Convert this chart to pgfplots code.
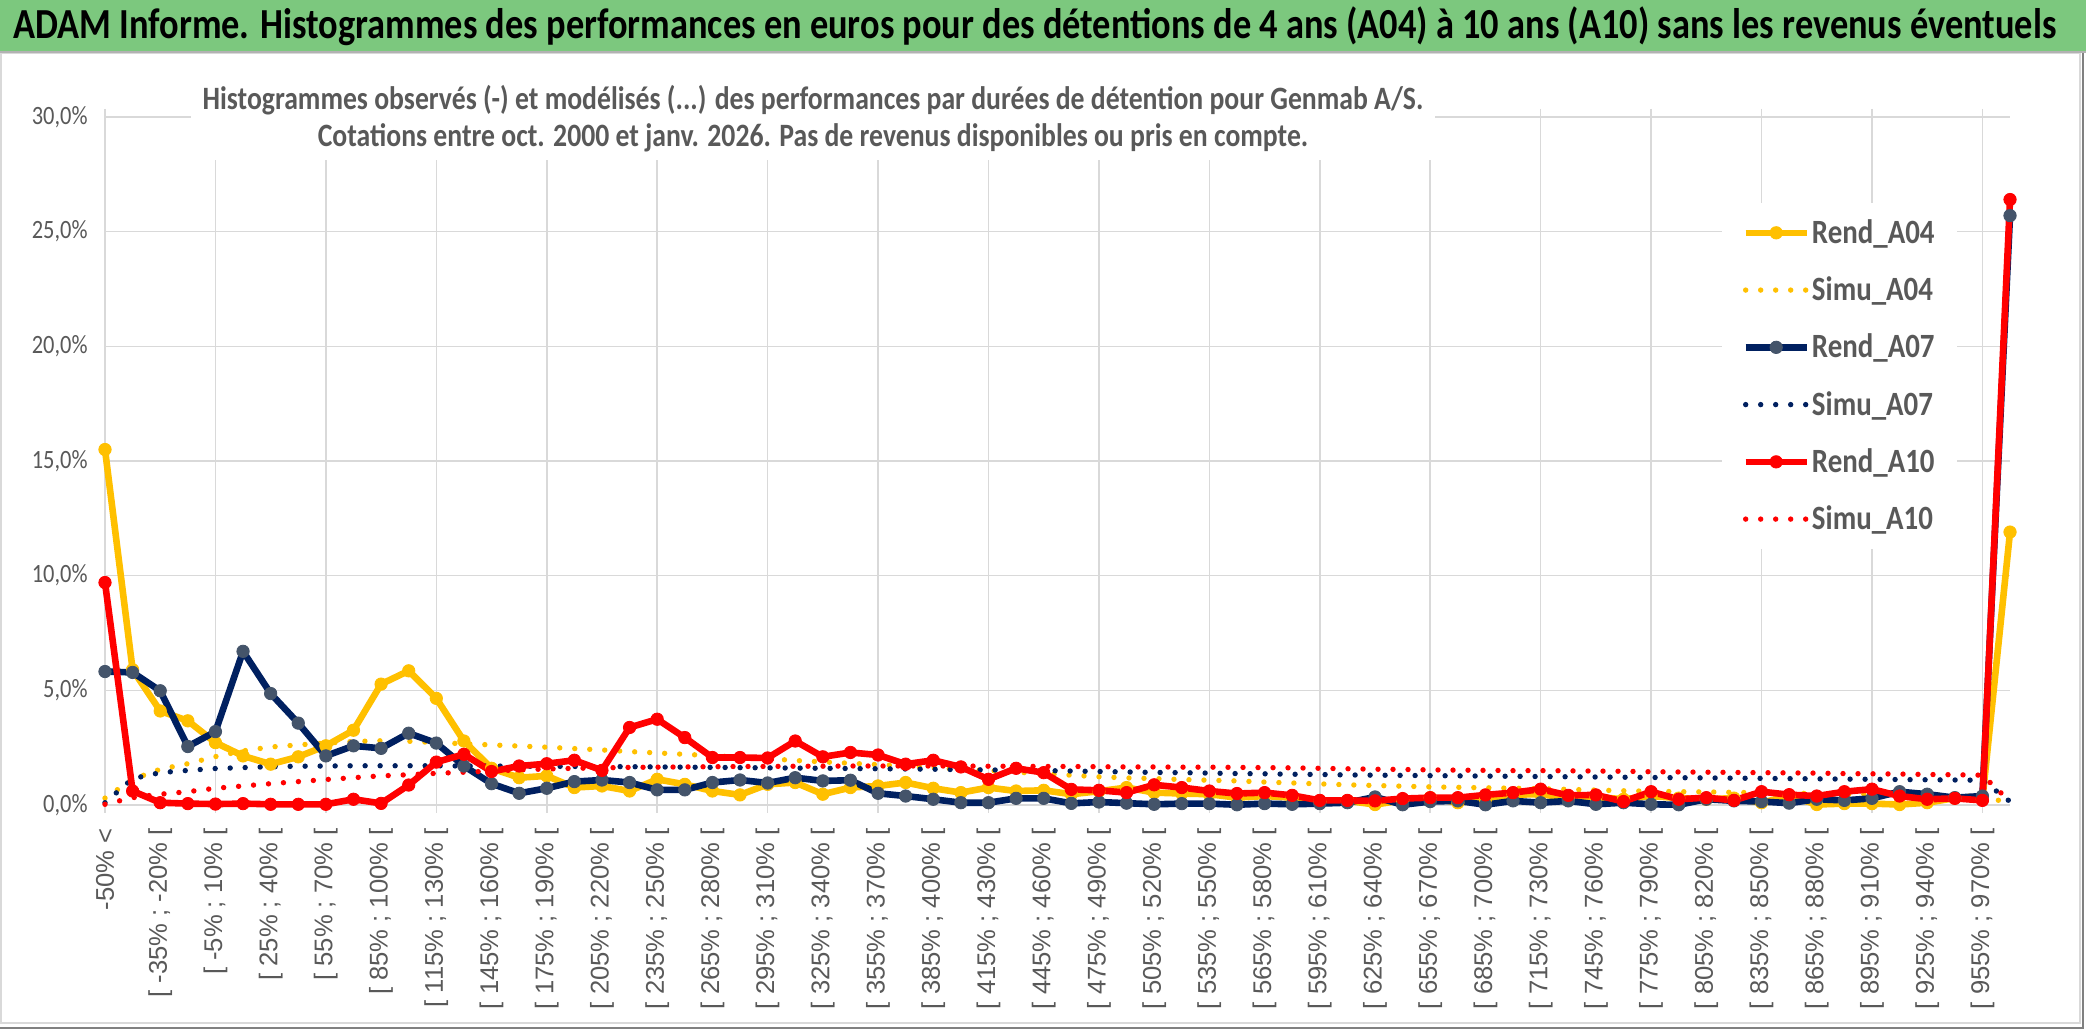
\documentclass[border=0pt]{standalone}
\usepackage{fontspec}
\setmainfont{Carlito}[FakeStretch=0.85]
\newfontfamily\xlabfont{Liberation Sans}
\usepackage{pgfplots}
\usepackage{pgfplotstable}
\pgfplotsset{compat=1.18}
\definecolor{cA4}{HTML}{FFC000}
\definecolor{cA7}{HTML}{002060}
\definecolor{cA7m}{HTML}{44546A}
\definecolor{cA10}{HTML}{FF0000}
\definecolor{txt}{HTML}{595959}
\definecolor{gridc}{HTML}{D9D9D9}
\definecolor{barc}{HTML}{7CC87E}
\newcommand\iv[2]{[ #1\% ; #2\% [}

\pgfplotstableread{
i r4 s4 r7 s7 r10 s10
0 15.5 0.30 5.82 0.10 9.70 0.03
1 5.90 1.12 5.78 1.15 0.61 0.32
2 4.10 1.56 4.98 1.41 0.10 0.47
3 3.67 1.80 2.55 1.51 0.06 0.58
4 2.72 2.11 3.20 1.59 0.04 0.73
5 2.14 2.36 6.70 1.63 0.06 0.83
6 1.78 2.53 4.86 1.67 0.03 0.93
7 2.10 2.62 3.57 1.69 0.03 1.02
8 2.58 2.70 2.14 1.70 0.03 1.11
9 3.26 2.77 2.58 1.71 0.25 1.19
10 5.27 2.80 2.47 1.71 0.07 1.27
11 5.85 2.78 3.13 1.71 0.87 1.32
12 4.65 2.72 2.70 1.71 1.87 1.38
13 2.79 2.67 1.70 1.70 2.21 1.43
14 1.60 2.62 0.93 1.70 1.46 1.48
15 1.19 2.57 0.51 1.69 1.70 1.53
16 1.27 2.52 0.73 1.69 1.80 1.57
17 0.76 2.46 1.02 1.68 1.95 1.60
18 0.83 2.40 1.09 1.68 1.51 1.62
19 0.61 2.33 0.98 1.67 3.38 1.64
20 1.12 2.27 0.66 1.66 3.74 1.65
21 0.90 2.21 0.66 1.65 2.94 1.66
22 0.61 2.15 0.98 1.64 2.07 1.67
23 0.44 2.08 1.09 1.63 2.07 1.68
24 0.90 2.02 0.96 1.62 2.05 1.68
25 0.98 1.94 1.19 1.61 2.79 1.69
26 0.47 1.88 1.05 1.60 2.10 1.69
27 0.76 1.82 1.08 1.59 2.29 1.70
28 0.83 1.76 0.51 1.58 2.18 1.70
29 0.98 1.70 0.39 1.57 1.78 1.70
30 0.73 1.63 0.25 1.56 1.95 1.70
31 0.54 1.56 0.10 1.54 1.66 1.70
32 0.76 1.50 0.10 1.53 1.12 1.69
33 0.61 1.43 0.29 1.51 1.60 1.69
34 0.64 1.37 0.29 1.50 1.41 1.68
35 0.47 1.30 0.07 1.48 0.68 1.68
36 0.60 1.23 0.13 1.46 0.64 1.67
37 0.76 1.18 0.08 1.44 0.54 1.66
38 0.54 1.15 0.03 1.42 0.88 1.66
39 0.50 1.11 0.06 1.41 0.76 1.65
40 0.47 1.08 0.06 1.39 0.61 1.65
41 0.32 1.05 0.01 1.37 0.50 1.64
42 0.39 1.00 0.06 1.36 0.54 1.63
43 0.32 0.96 0.03 1.34 0.42 1.62
44 0.15 0.92 0.06 1.33 0.20 1.60
45 0.18 0.88 0.10 1.31 0.20 1.58
46 0.02 0.85 0.35 1.30 0.18 1.56
47 0.20 0.82 0.01 1.29 0.28 1.55
48 0.32 0.79 0.15 1.28 0.32 1.53
49 0.10 0.77 0.18 1.27 0.32 1.52
50 0.25 0.75 0.01 1.26 0.44 1.51
51 0.45 0.73 0.18 1.25 0.54 1.50
52 0.47 0.71 0.10 1.24 0.69 1.50
53 0.30 0.68 0.18 1.23 0.42 1.49
54 0.35 0.65 0.03 1.22 0.44 1.48
55 0.25 0.62 0.10 1.21 0.15 1.47
56 0.39 0.60 0.03 1.20 0.58 1.45
57 0.30 0.58 0.01 1.19 0.25 1.44
58 0.25 0.57 0.25 1.18 0.32 1.43
59 0.30 0.55 0.18 1.17 0.20 1.42
60 0.10 0.53 0.15 1.16 0.58 1.41
61 0.40 0.51 0.08 1.15 0.45 1.40
62 0.02 0.50 0.25 1.14 0.39 1.39
63 0.06 0.48 0.20 1.13 0.58 1.37
64 0.06 0.47 0.29 1.12 0.69 1.36
65 0.02 0.45 0.58 1.11 0.39 1.35
66 0.10 0.44 0.47 1.10 0.25 1.33
67 0.30 0.42 0.32 1.09 0.29 1.32
68 0.25 0.35 0.39 1.08 0.20 1.30
69 11.9 0.10 25.7 0.15 26.4 0.15
}\datatab

\begin{document}
\begin{tikzpicture}
\useasboundingbox (0,0) rectangle (1043pt,515.5pt);
\fill[white] (0,0) rectangle (1043pt,515.5pt);
\draw[gridc, line width=0.8pt] (0.5pt,4pt) rectangle (1040pt,489pt);
\draw[gray, line width=1pt] (0,1.5pt) -- (1041.5pt,1.5pt) -- (1041.5pt,489pt);
\fill[barc] (0,490pt) rectangle (1043pt,515.5pt);
\draw[gray!60, line width=1pt] (0,489.5pt) -- (1043pt,489.5pt);
\node[anchor=west, inner sep=0pt, font=\bfseries\fontsize{21.4}{22}\selectfont] at (6.5pt,502.5pt)
 {ADAM Informe. Histogrammes des performances en euros pour des détentions de 4 ans (A04) à 10 ans (A10) sans les revenus éventuels};

\begin{axis}[
  at={(52.5pt,113pt)}, anchor=south west,
  width=952.5pt, height=344pt, scale only axis,
  xmin=0, xmax=69, ymin=0, ymax=30,
  clip=false,
  axis line style={draw=none},
  ytick={0,5,...,30},
  yticklabels={{0,0\%},{5,0\%},{10,0\%},{15,0\%},{20,0\%},{25,0\%},{30,0\%}},
  ymajorgrids,
  major grid style={gridc, line width=0.8pt},
  minor grid style={gridc, line width=0.8pt},
  xtick={0,2,...,68},
  xticklabels={{-50\% <},{\iv{-35}{-20}},{\iv{-5}{10}},{\iv{25}{40}},{\iv{55}{70}},{\iv{85}{100}},{\iv{115}{130}},{\iv{145}{160}},{\iv{175}{190}},{\iv{205}{220}},{\iv{235}{250}},{\iv{265}{280}},{\iv{295}{310}},{\iv{325}{340}},{\iv{355}{370}},{\iv{385}{400}},{\iv{415}{430}},{\iv{445}{460}},{\iv{475}{490}},{\iv{505}{520}},{\iv{535}{550}},{\iv{565}{580}},{\iv{595}{610}},{\iv{625}{640}},{\iv{655}{670}},{\iv{685}{700}},{\iv{715}{730}},{\iv{745}{760}},{\iv{775}{790}},{\iv{805}{820}},{\iv{835}{850}},{\iv{865}{880}},{\iv{895}{910}},{\iv{925}{940}},{\iv{955}{970}}},
  minor xtick={0,4,...,68},
  xminorgrids,
  tick align=outside,
  major tick length=0pt,
  minor tick length=4pt,
  minor tick style={gridc, line width=0.8pt},
  xticklabel style={font=\xlabfont\fontsize{12.8}{13}\selectfont, text=txt, rotate=90, anchor=east, inner sep=0pt},
  xticklabel shift=11.5pt,
  yticklabel style={font=\fontsize{13.2}{14}\selectfont, text=txt, anchor=east, inner sep=0pt},
  yticklabel shift=8.5pt,
  legend style={at={(rel axis cs:0.8488,0.875)}, anchor=north west, fill=white, draw=none,
    inner xsep=10pt, inner ysep=7pt, font=\bfseries\fontsize{17}{18}\selectfont, text=txt,
    row sep=13.2pt, nodes={inner sep=1pt}},
  legend cell align=left,
  legend image code/.code={\draw[mark repeat=2,mark phase=2] plot coordinates {(0pt,0pt) (15.25pt,0pt) (30.5pt,0pt)};},
]
\addplot[cA4, line width=3.3pt, line join=round, mark=*, mark size=3.1pt, mark options={solid, fill=cA4, draw=cA4, line width=0.4pt}] table[x=i,y=r4]{\datatab};
\addlegendentry{Rend\_A04}
\addplot[cA4, line width=2.7pt, line cap=round, dash pattern=on 0pt off 7.5pt, no marks] table[x=i,y=s4]{\datatab};
\addlegendentry{Simu\_A04}
\addplot[cA7, line width=3.3pt, line join=round, mark=*, mark size=3.1pt, mark options={solid, fill=cA7m, draw=cA7m, line width=0.4pt}] table[x=i,y=r7]{\datatab};
\addlegendentry{Rend\_A07}
\addplot[cA7, line width=2.7pt, line cap=round, dash pattern=on 0pt off 7.5pt, no marks] table[x=i,y=s7]{\datatab};
\addlegendentry{Simu\_A07}
\addplot[cA10, line width=3.3pt, line join=round, mark=*, mark size=3.1pt, mark options={solid, fill=cA10, draw=cA10, line width=0.4pt}] table[x=i,y=r10]{\datatab};
\addlegendentry{Rend\_A10}
\addplot[cA10, line width=2.7pt, line cap=round, dash pattern=on 0pt off 7.5pt, no marks] table[x=i,y=s10]{\datatab};
\addlegendentry{Simu\_A10}
\end{axis}

\node[fill=white, inner xsep=6pt, inner ysep=4pt, align=center, text=txt, font=\bfseries\fontsize{16.3}{18.5}\selectfont] at (406.5pt,456.3pt)
 {Histogrammes observés (-) et modélisés (...) des performances par durées de détention pour Genmab A/S.\\Cotations entre oct. 2000 et janv. 2026. Pas de revenus disponibles ou pris en compte.};
\end{tikzpicture}
\end{document}
